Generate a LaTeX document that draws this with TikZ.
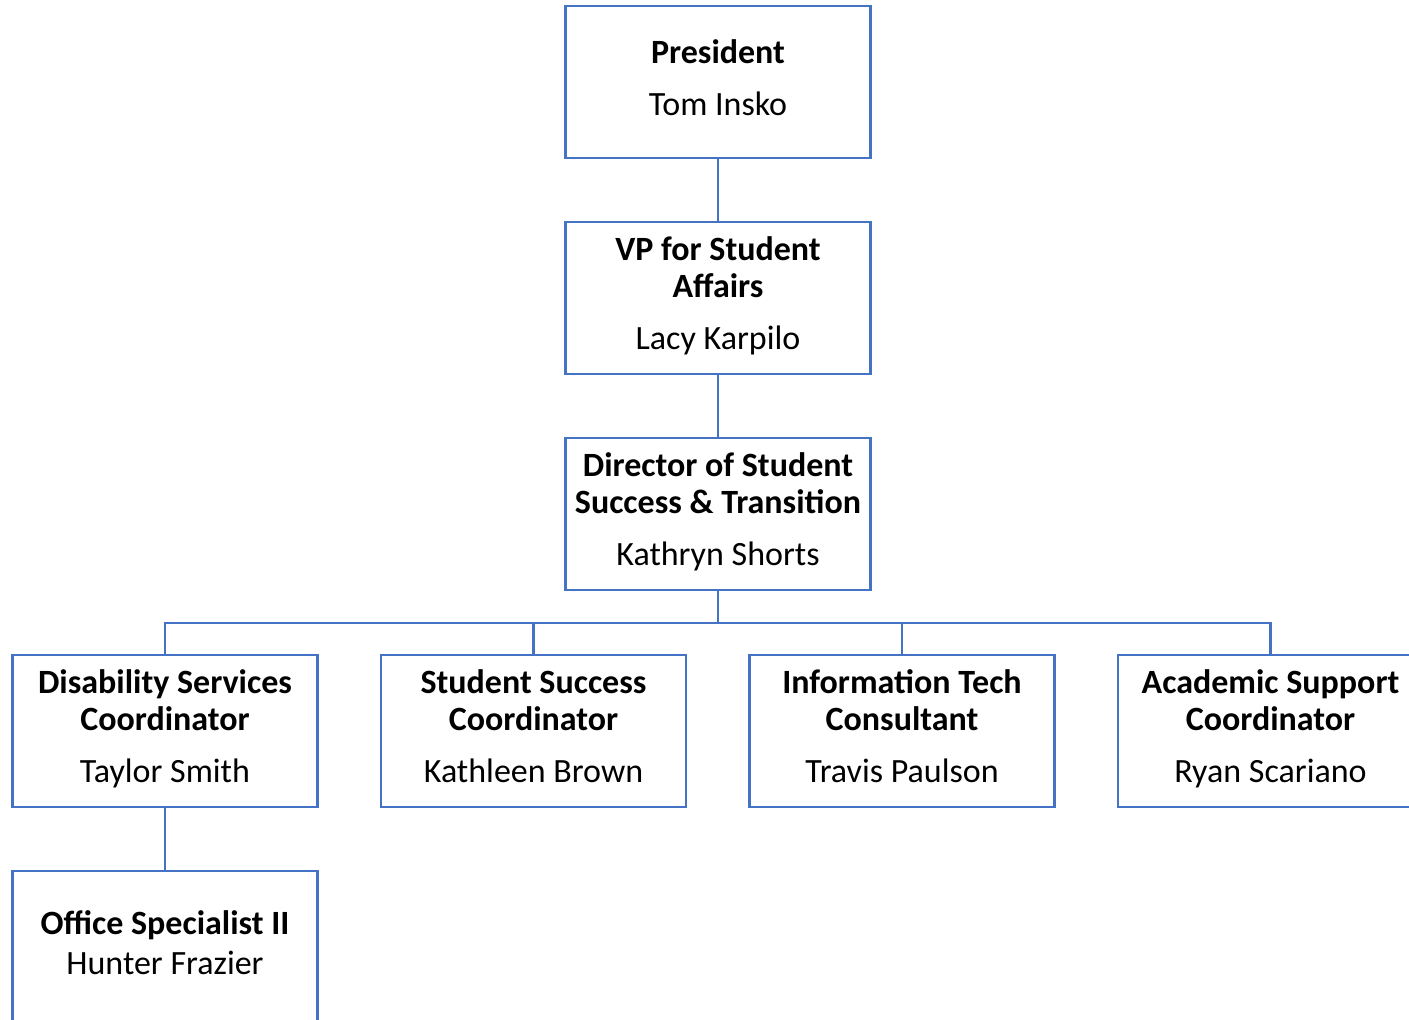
\documentclass[tikz,border=0pt]{standalone}
\usepackage{fontspec}
\setmainfont{Carlito}
\definecolor{boxblue}{HTML}{4472C4}
\begin{document}
\begin{tikzpicture}[x=1pt,y=-1pt,
  box/.style={draw=boxblue,line width=2.8pt,fill=white,minimum width=305pt,minimum height=152pt,
    align=center,inner sep=0pt,font=\fontsize{34}{37}\selectfont},
  link/.style={draw=boxblue,line width=2.8pt}]
\useasboundingbox (0,0) rectangle (1409,1020);
\node[box] (pres) at (718,82) {\strut\textbf{President}\\[15pt]\strut Tom Insko};
\node[box] (vp) at (718,298) {\strut\textbf{VP for Student}\\\strut\textbf{Affairs}\\[15pt]\strut Lacy Karpilo};
\node[box] (dir) at (718,514) {\strut\textbf{Director of Student}\\\strut\textbf{Success \& Transition}\\[15pt]\strut Kathryn Shorts};
\node[box] (dis) at (165,731) {\strut\textbf{Disability Services}\\\strut\textbf{Coordinator}\\[15pt]\strut Taylor Smith};
\node[box] (ssc) at (533.5,731) {\strut\textbf{Student Success}\\\strut\textbf{Coordinator}\\[15pt]\strut Kathleen Brown};
\node[box] (itc) at (902,731) {\strut\textbf{Information Tech}\\\strut\textbf{Consultant}\\[15pt]\strut Travis Paulson};
\node[box] (asc) at (1270.5,731) {\strut\textbf{Academic Support}\\\strut\textbf{Coordinator}\\[15pt]\strut Ryan Scariano};
\node[box] (off) at (165,947) {\strut\textbf{Office Specialist II}\\[3pt]\strut Hunter Frazier};
\draw[link] (pres.south) -- (vp.north);
\draw[link] (vp.south) -- (dir.north);
\coordinate (bus) at (718,623);
\draw[link] (dir.south) -- (bus);
\foreach \c in {dis,ssc,itc,asc}{\draw[link] (bus) -| (\c.north);}
\draw[link] (dis.south) -- (off.north);
\end{tikzpicture}
\end{document}
